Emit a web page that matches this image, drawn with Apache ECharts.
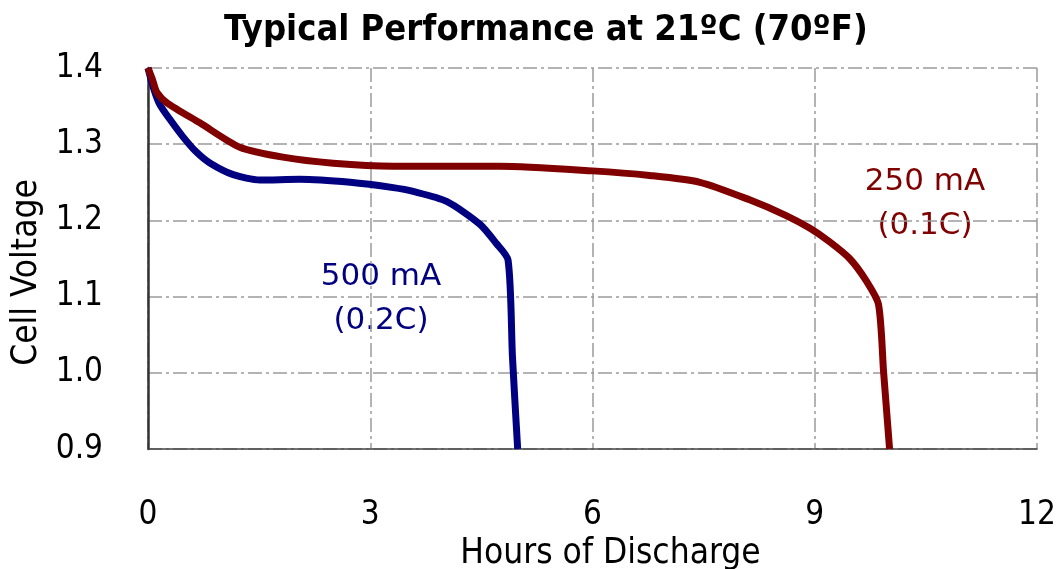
<!DOCTYPE html>
<html>
<head>
<meta charset="utf-8">
<script src="https://cdn.jsdelivr.net/npm/echarts@6/dist/echarts.min.js"></script>
<style>
  html, body { margin: 0; padding: 0; background: #fff; }
  #chart { width: 1059px; height: 569px; }
</style>
</head>
<body>
<div id="chart"></div>
<script>
// 500 mA (0.2C) discharge curve: [hours, volts]
const curve500 = [
  [0, 1.40], [0.08, 1.372], [0.16, 1.352], [0.3, 1.332], [0.47, 1.31], [0.65, 1.29],
  [0.84, 1.275], [1.15, 1.26], [1.51, 1.253], [2.05, 1.254], [2.73, 1.25],
  [3.31, 1.243], [3.58, 1.238], [4.03, 1.225], [4.48, 1.195], [4.7, 1.17],
  [4.86, 1.148], [4.92, 1.02], [4.99, 0.9]
];
// 250 mA (0.1C) discharge curve
const curve250 = [
  [0, 1.40], [0.06, 1.385], [0.12, 1.368], [0.26, 1.354], [0.7, 1.328], [1.24, 1.296],
  [1.82, 1.283], [2.5, 1.275], [3.31, 1.271], [4.75, 1.271], [6.0, 1.265],
  [6.77, 1.259], [7.45, 1.25], [8.12, 1.227], [8.6, 1.207], [8.93, 1.19],
  [9.2, 1.172], [9.47, 1.15], [9.7, 1.12], [9.86, 1.09], [9.93, 1.0], [10.01, 0.9]
];
const xTicks = [0, 3, 6, 9, 12];
const yTicks = [0.9, 1.0, 1.1, 1.2, 1.3, 1.4];

const blue = '#000080';
const red = '#800000';
const gridLine = { color: '#9a9a9a', width: 1.5, type: [14, 4, 3, 4] };
const condensed = '"DejaVu Sans Condensed", "DejaVu Sans", sans-serif';

const chart = echarts.init(document.getElementById('chart'), null, { renderer: 'canvas' });

chart.setOption({
  backgroundColor: '#fff',
  animation: false,
  title: {
    text: 'Typical Performance at 21ºC (70ºF)',
    left: 219,
    top: 8,
    textStyle: { fontFamily: condensed, fontSize: 36, fontWeight: 'bold', color: '#000' }
  },
  grid: { left: 148, top: 68, right: 22, bottom: 120, outerBoundsMode: 'none', containLabel: false },
  xAxis: {
    type: 'value',
    min: xTicks[0],
    max: xTicks[xTicks.length - 1],
    interval: 3,
    name: 'Hours of Discharge',
    nameLocation: 'middle',
    nameGap: 76,
    nameTextStyle: { fontFamily: condensed, fontSize: 35, color: '#000', padding: [0, 0, 0, 36] },
    axisLine: { show: true, lineStyle: { color: '#444', width: 1.5 } },
    axisTick: { show: false },
    axisLabel: { margin: 50, fontFamily: condensed, fontSize: 33, color: '#000' },
    splitLine: { show: true, lineStyle: gridLine }
  },
  yAxis: {
    type: 'value',
    min: yTicks[0],
    max: yTicks[yTicks.length - 1],
    interval: 0.1,
    name: 'Cell Voltage',
    nameLocation: 'middle',
    nameGap: 102,
    nameTextStyle: { fontFamily: condensed, fontSize: 35, color: '#000', padding: [0, 28, 0, 0] },
    axisLine: { show: true, lineStyle: { color: '#333', width: 2.5 } },
    axisTick: { show: false },
    axisLabel: {
      margin: 45, fontFamily: condensed, fontSize: 33, color: '#000',
      formatter: v => v.toFixed(1)
    },
    splitLine: { show: true, lineStyle: gridLine }
  },
  series: [
    {
      name: '500 mA', type: 'line', data: curve500, smooth: 0.25, symbol: 'none',
      lineStyle: { color: blue, width: 7 }, z: 3
    },
    {
      name: '250 mA', type: 'line', data: curve250, smooth: 0.25, symbol: 'none',
      lineStyle: { color: red, width: 7 }, z: 4
    }
  ],
  graphic: [
    {
      type: 'text', x: 381, y: 255,
      style: {
        text: '500 mA\n(0.2C)', fill: blue, font: '31px "DejaVu Sans", sans-serif',
        textAlign: 'center', lineHeight: 44
      }
    },
    {
      type: 'text', x: 925, y: 160,
      style: {
        text: '250 mA\n(0.1C)', fill: red, font: '31px "DejaVu Sans", sans-serif',
        textAlign: 'center', lineHeight: 44
      }
    }
  ]
});
</script>
</body>
</html>
